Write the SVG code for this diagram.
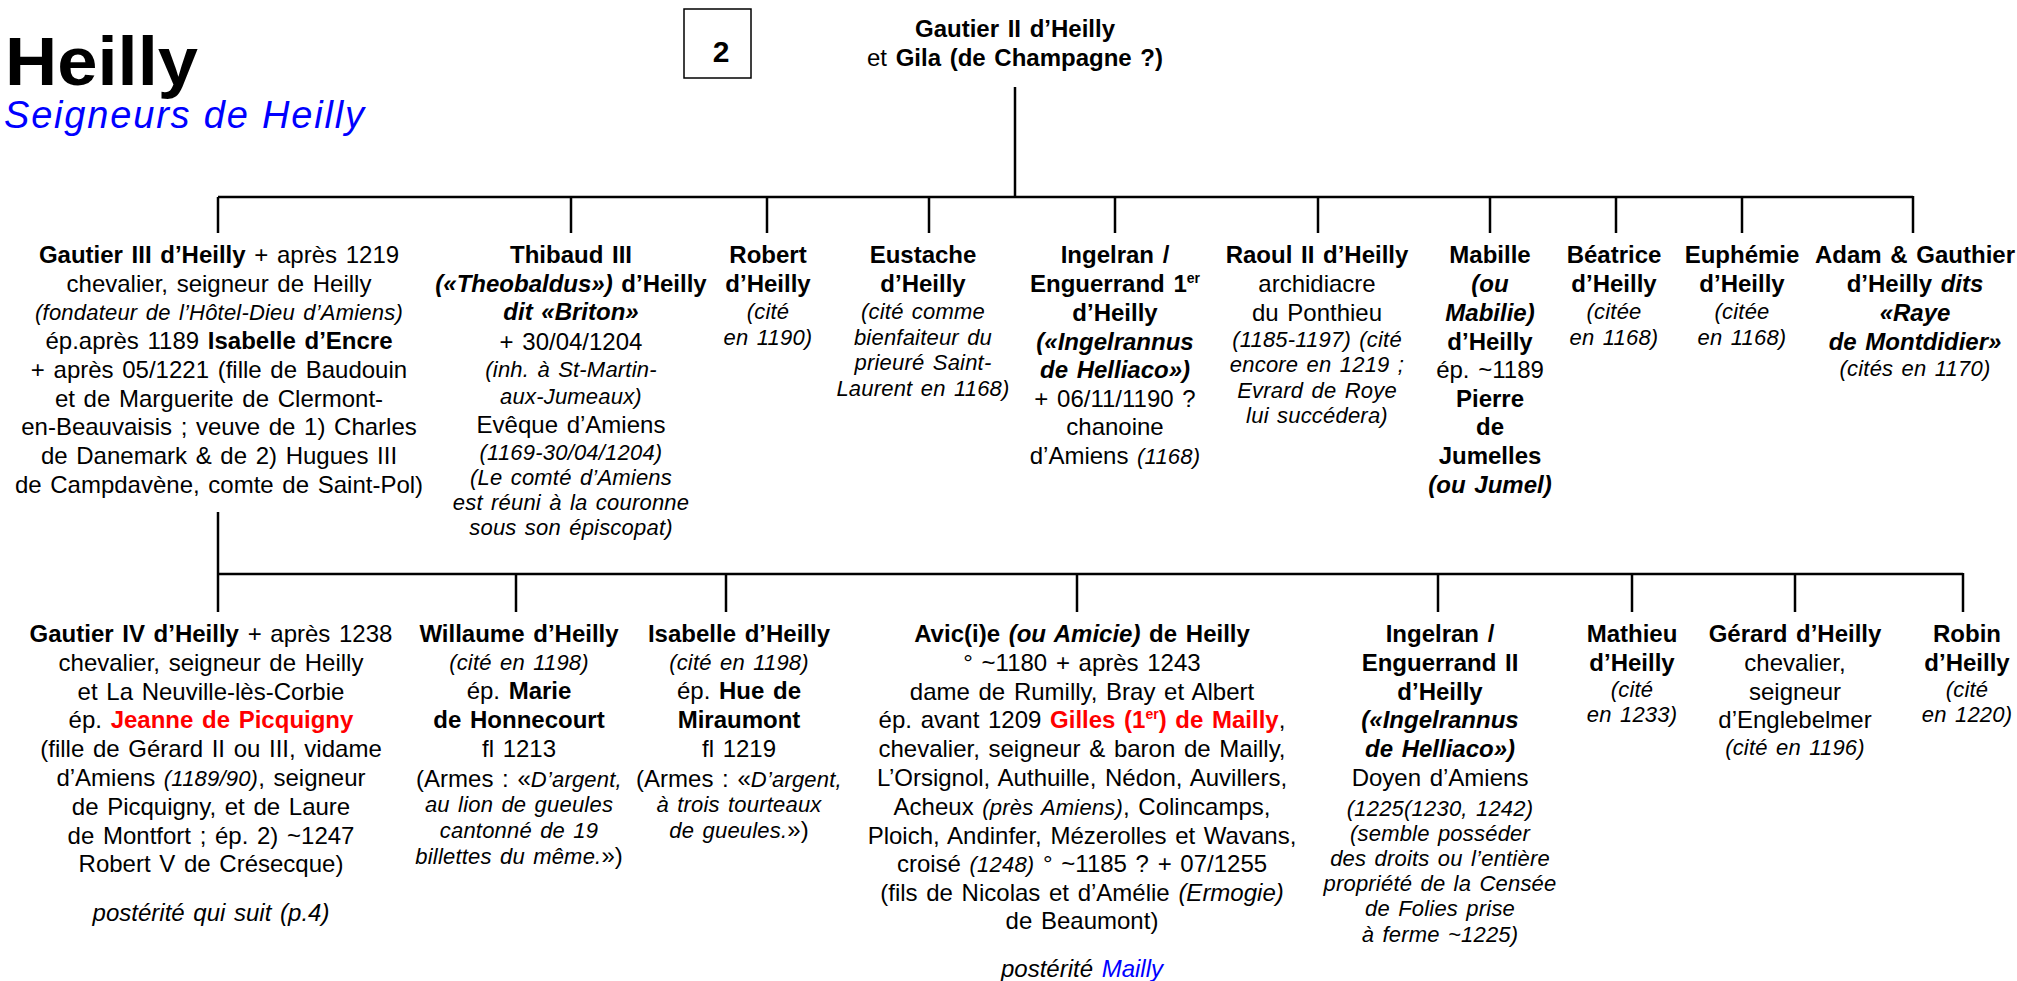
<svg xmlns="http://www.w3.org/2000/svg" width="2017" height="981" viewBox="0 0 2017 981">
<style>
text { font-family: "Liberation Sans", Arial, sans-serif; fill: #000; }
.n text { font-size: 24px; text-anchor: middle; word-spacing: 2px; }
.b { font-weight: bold; }
.n text.i, .n .i { font-style: italic; font-size: 22px; letter-spacing: 0.2px; }
.bi { font-weight: bold; font-style: italic; }
.il { font-style: italic; }
.red { fill: #ff0000; font-weight: bold; }
.blue { fill: #0000ff; }
.n .sup { font-size: 14px; }
.ln { stroke: #000; stroke-width: 2.5; fill: none; }
</style>
<rect width="2017" height="981" fill="#fff"/>

<g id="title">
<text x="5" y="85" font-size="68" font-weight="bold" textLength="193" lengthAdjust="spacingAndGlyphs">Heilly</text>
<text x="4" y="128" font-size="38" font-style="italic" class="blue" textLength="360" lengthAdjust="spacing">Seigneurs de Heilly</text>
</g>

<g id="page-box">
<rect x="684" y="9" width="67" height="69" fill="none" stroke="#000" stroke-width="1.5"/>
<text x="721" y="62" font-size="30" font-weight="bold" text-anchor="middle">2</text>
</g>

<g id="connectors">
<line class="ln" x1="1015" y1="87" x2="1015" y2="197"/>
<line class="ln" x1="218" y1="197" x2="1913" y2="197"/>
<line class="ln" x1="218" y1="197" x2="218" y2="233"/>
<line class="ln" x1="571" y1="197" x2="571" y2="233"/>
<line class="ln" x1="767" y1="197" x2="767" y2="233"/>
<line class="ln" x1="929" y1="197" x2="929" y2="233"/>
<line class="ln" x1="1115" y1="197" x2="1115" y2="233"/>
<line class="ln" x1="1318" y1="197" x2="1318" y2="233"/>
<line class="ln" x1="1490" y1="197" x2="1490" y2="233"/>
<line class="ln" x1="1616" y1="197" x2="1616" y2="233"/>
<line class="ln" x1="1742" y1="197" x2="1742" y2="233"/>
<line class="ln" x1="1913" y1="196" x2="1913" y2="233" stroke-width="3.5"/>
<line class="ln" x1="218" y1="512" x2="218" y2="612"/>
<line class="ln" x1="218" y1="574" x2="1963" y2="574"/>
<line class="ln" x1="516" y1="574" x2="516" y2="612"/>
<line class="ln" x1="726" y1="574" x2="726" y2="612"/>
<line class="ln" x1="1077" y1="574" x2="1077" y2="612"/>
<line class="ln" x1="1438" y1="574" x2="1438" y2="612"/>
<line class="ln" x1="1632" y1="574" x2="1632" y2="612"/>
<line class="ln" x1="1795" y1="574" x2="1795" y2="612"/>
<line class="ln" x1="1963" y1="573" x2="1963" y2="612"/>
</g>

<g id="gautier2" class="n">
<text x="1015" y="37" class="b">Gautier II d’Heilly</text>
<text x="1015" y="66">et  <tspan class="b">Gila (de Champagne ?)</tspan></text>
</g>

<g id="gautier3" class="n">
<text x="219" y="263"><tspan class="b">Gautier III d’Heilly</tspan> +  après 1219</text>
<text x="219" y="292">chevalier, seigneur de Heilly</text>
<text x="219" y="320" class="i">(fondateur de l’Hôtel-Dieu d’Amiens)</text>
<text x="219" y="349">ép.après 1189 <tspan class="b">Isabelle d’Encre</tspan></text>
<text x="219" y="378">+ après 05/1221 (fille de Baudouin</text>
<text x="219" y="407">et de Marguerite de Clermont-</text>
<text x="219" y="435">en-Beauvaisis ; veuve de 1) Charles</text>
<text x="219" y="464">de Danemark &amp; de 2) Hugues III</text>
<text x="219" y="493">de Campdavène, comte de Saint-Pol)</text>
</g>

<g id="thibaud3" class="n">
<text x="571" y="263" class="b">Thibaud III</text>
<text x="571" y="292"><tspan class="bi">(«Theobaldus»)</tspan><tspan class="b"> d’Heilly</tspan></text>
<text x="571" y="320" class="bi">dit «Briton»</text>
<text x="571" y="350">+ 30/04/1204</text>
<text x="571" y="377" class="i">(inh. à St-Martin-</text>
<text x="571" y="404" class="i">aux-Jumeaux)</text>
<text x="571" y="433">Evêque d’Amiens</text>
<text x="571" y="460" class="i">(1169-30/04/1204)</text>
<text x="571" y="485" class="i">(Le comté d’Amiens</text>
<text x="571" y="510" class="i">est réuni à la couronne</text>
<text x="571" y="535" class="i">sous son épiscopat)</text>
</g>

<g id="robert" class="n">
<text x="768" y="263" class="b">Robert</text>
<text x="768" y="292" class="b">d’Heilly</text>
<text x="768" y="319" class="i">(cité</text>
<text x="768" y="345" class="i">en 1190)</text>
</g>

<g id="eustache" class="n">
<text x="923" y="263" class="b">Eustache</text>
<text x="923" y="292" class="b">d’Heilly</text>
<text x="923" y="319" class="i">(cité comme</text>
<text x="923" y="345" class="i">bienfaiteur du</text>
<text x="923" y="370" class="i">prieuré Saint-</text>
<text x="923" y="396" class="i">Laurent en 1168)</text>
</g>

<g id="ingelran1" class="n">
<text x="1115" y="263" class="b">Ingelran /</text>
<text x="1115" y="292" class="b">Enguerrand 1<tspan class="sup" dy="-9">er</tspan></text>
<text x="1115" y="321" class="b">d’Heilly</text>
<text x="1115" y="350" class="bi">(«Ingelrannus</text>
<text x="1115" y="378" class="bi">de  Helliaco»)</text>
<text x="1115" y="407">+ 06/11/1190 ?</text>
<text x="1115" y="435">chanoine</text>
<text x="1115" y="464">d’Amiens <tspan class="i">(1168)</tspan></text>
</g>

<g id="raoul2" class="n">
<text x="1317" y="263" class="b">Raoul II d’Heilly</text>
<text x="1317" y="292">archidiacre</text>
<text x="1317" y="321">du Ponthieu</text>
<text x="1317" y="347" class="i">(1185-1197) (cité</text>
<text x="1317" y="372" class="i">encore en 1219 ;</text>
<text x="1317" y="398" class="i">Evrard de Roye</text>
<text x="1317" y="423" class="i">lui succédera)</text>
</g>

<g id="mabille" class="n">
<text x="1490" y="263" class="b">Mabille</text>
<text x="1490" y="292" class="bi">(ou</text>
<text x="1490" y="321" class="bi">Mabilie)</text>
<text x="1490" y="350" class="b">d’Heilly</text>
<text x="1490" y="378">ép. ~1189</text>
<text x="1490" y="407" class="b">Pierre</text>
<text x="1490" y="435" class="b">de</text>
<text x="1490" y="464" class="b">Jumelles</text>
<text x="1490" y="493" class="bi">(ou Jumel)</text>
</g>

<g id="beatrice" class="n">
<text x="1614" y="263" class="b">Béatrice</text>
<text x="1614" y="292" class="b">d’Heilly</text>
<text x="1614" y="319" class="i">(citée</text>
<text x="1614" y="345" class="i">en 1168)</text>
</g>

<g id="euphemie" class="n">
<text x="1742" y="263" class="b">Euphémie</text>
<text x="1742" y="292" class="b">d’Heilly</text>
<text x="1742" y="319" class="i">(citée</text>
<text x="1742" y="345" class="i">en 1168)</text>
</g>

<g id="adam-gauthier" class="n">
<text x="1915" y="263" class="b">Adam &amp; Gauthier</text>
<text x="1915" y="292"><tspan class="b">d’Heilly </tspan><tspan class="bi">dits</tspan></text>
<text x="1915" y="321" class="bi">«Raye</text>
<text x="1915" y="350" class="bi">de Montdidier»</text>
<text x="1915" y="376" class="i">(cités en 1170)</text>
</g>

<g id="gautier4" class="n">
<text x="211" y="642"><tspan class="b">Gautier IV d’Heilly</tspan> + après 1238</text>
<text x="211" y="671">chevalier, seigneur de Heilly</text>
<text x="211" y="700">et La Neuville-lès-Corbie</text>
<text x="211" y="728">ép.  <tspan class="red">Jeanne de Picquigny</tspan></text>
<text x="211" y="757">(fille de Gérard II ou III, vidame</text>
<text x="211" y="786">d’Amiens <tspan class="i">(1189/90)</tspan>, seigneur</text>
<text x="211" y="815">de Picquigny, et de Laure</text>
<text x="211" y="844">de Montfort ; ép. 2) ~1247</text>
<text x="211" y="872">Robert V de Crésecque)</text>
<text x="211" y="921" class="il">postérité qui suit (p.4)</text>
</g>

<g id="willaume" class="n">
<text x="519" y="642" class="b">Willaume d’Heilly</text>
<text x="519" y="670" class="i">(cité en 1198)</text>
<text x="519" y="699">ép. <tspan class="b">Marie</tspan></text>
<text x="519" y="728" class="b">de Honnecourt</text>
<text x="519" y="757">fl 1213</text>
<text x="519" y="787">(Armes : «<tspan class="i">D’argent,</tspan></text>
<text x="519" y="812" class="i">au lion de gueules</text>
<text x="519" y="838" class="i">cantonné de 19</text>
<text x="519" y="864"><tspan class="i">billettes du même.</tspan>»)</text>
</g>

<g id="isabelle" class="n">
<text x="739" y="642" class="b">Isabelle d’Heilly</text>
<text x="739" y="670" class="i">(cité en 1198)</text>
<text x="739" y="699">ép. <tspan class="b">Hue de</tspan></text>
<text x="739" y="728" class="b">Miraumont</text>
<text x="739" y="757">fl 1219</text>
<text x="739" y="787">(Armes : «<tspan class="i">D’argent,</tspan></text>
<text x="739" y="812" class="i">à trois tourteaux</text>
<text x="739" y="838"><tspan class="i">de gueules.</tspan>»)</text>
</g>

<g id="avicie" class="n">
<text x="1082" y="642"><tspan class="b">Avic(i)e </tspan><tspan class="bi">(ou Amicie)</tspan><tspan class="b"> de Heilly</tspan></text>
<text x="1082" y="671">° ~1180 + après 1243</text>
<text x="1082" y="700">dame de Rumilly, Bray et Albert</text>
<text x="1082" y="728">ép. avant 1209 <tspan class="red">Gilles (1</tspan><tspan class="red sup" dy="-9">er</tspan><tspan class="red" dy="9">) de Mailly</tspan>,</text>
<text x="1082" y="757">chevalier, seigneur &amp; baron de Mailly,</text>
<text x="1082" y="786">L’Orsignol, Authuille, Nédon, Auvillers,</text>
<text x="1082" y="815">Acheux <tspan class="i">(près Amiens)</tspan>, Colincamps,</text>
<text x="1082" y="844">Ploich, Andinfer, Mézerolles et Wavans,</text>
<text x="1082" y="872">croisé <tspan class="i">(1248)</tspan> ° ~1185 ? + 07/1255</text>
<text x="1082" y="901">(fils de Nicolas et d’Amélie <tspan class="il">(Ermogie)</tspan></text>
<text x="1082" y="929">de Beaumont)</text>
<text x="1082" y="977" class="il">postérité <tspan class="blue">Mailly</tspan></text>
</g>

<g id="ingelran2" class="n">
<text x="1440" y="642" class="b">Ingelran /</text>
<text x="1440" y="671" class="b">Enguerrand II</text>
<text x="1440" y="700" class="b">d’Heilly</text>
<text x="1440" y="728" class="bi">(«Ingelrannus</text>
<text x="1440" y="757" class="bi">de  Helliaco»)</text>
<text x="1440" y="786">Doyen d’Amiens</text>
<text x="1440" y="816" class="i">(1225(1230, 1242)</text>
<text x="1440" y="841" class="i">(semble posséder</text>
<text x="1440" y="866" class="i">des droits ou l’entière</text>
<text x="1440" y="891" class="i">propriété de la Censée</text>
<text x="1440" y="916" class="i">de Folies prise</text>
<text x="1440" y="942" class="i">à ferme  ~1225)</text>
</g>

<g id="mathieu" class="n">
<text x="1632" y="642" class="b">Mathieu</text>
<text x="1632" y="671" class="b">d’Heilly</text>
<text x="1632" y="697" class="i">(cité</text>
<text x="1632" y="722" class="i">en 1233)</text>
</g>

<g id="gerard" class="n">
<text x="1795" y="642" class="b">Gérard d’Heilly</text>
<text x="1795" y="671">chevalier,</text>
<text x="1795" y="700">seigneur</text>
<text x="1795" y="728">d’Englebelmer</text>
<text x="1795" y="755" class="i">(cité en 1196)</text>
</g>

<g id="robin" class="n">
<text x="1967" y="642" class="b">Robin</text>
<text x="1967" y="671" class="b">d’Heilly</text>
<text x="1967" y="697" class="i">(cité</text>
<text x="1967" y="722" class="i">en 1220)</text>
</g>
</svg>
